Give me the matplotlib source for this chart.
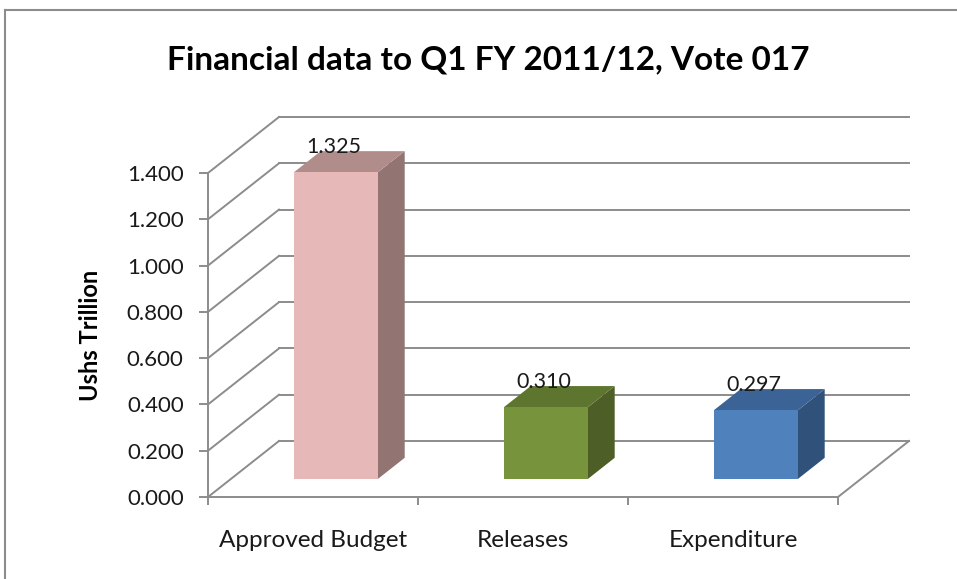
import matplotlib.pyplot as plt
from matplotlib.patches import Polygon, Rectangle
from matplotlib.lines import Line2D

# chart data
categories = ["Approved Budget", "Releases", "Expenditure"]
values = [1.325, 0.310, 0.297]
value_labels = ["1.325", "0.310", "0.297"]
y_ticks = [0.0, 0.2, 0.4, 0.6, 0.8, 1.0, 1.2, 1.4]
y_tick_labels = ["0.000", "0.200", "0.400", "0.600", "0.800", "1.000", "1.200", "1.400"]

# bar face colours (front, side, top)
front_colors = ["#E6B9B8", "#77933C", "#4F81BD"]
side_colors = ["#927472", "#4D5F26", "#30527A"]
top_colors = ["#B08D8B", "#5E7530", "#3B6396"]

GRID = "#8C8C8C"
TEXT = "#1a1a1a"
FONT = "Lato"
W, H = 957, 579
DEPTH_PX = (71, 56)      # full floor depth in pixels
BAR_FRONT, BAR_BACK = 0.32, 0.70   # bar position within the depth
BAR_W = 0.4

plt.rcParams["font.family"] = FONT

fig = plt.figure(figsize=(W / 100, H / 100), dpi=100)
ax = fig.add_axes([208 / W, 82 / H, 630 / W, 324 / H])
ax.set_xlim(-0.5, 2.5)
ax.set_ylim(0, 1.4)

# convert depth offset from pixels into data units
px_x = ax.get_position().width * W / 3.0
px_y = ax.get_position().height * H / 1.4
dx = DEPTH_PX[0] / px_x
dy = DEPTH_PX[1] / px_y

x_lo, x_hi = ax.get_xlim()

# back wall gridlines and left wall diagonals
for t in y_ticks:
    ax.add_line(Line2D([x_lo + dx, x_hi + dx], [t + dy, t + dy], color=GRID,
                       lw=1.4, clip_on=False, zorder=1))
    ax.add_line(Line2D([x_lo, x_lo + dx], [t, t + dy], color=GRID,
                       lw=1.4, clip_on=False, zorder=1))
# right edge of floor
ax.add_line(Line2D([x_hi, x_hi + dx], [0, dy], color=GRID, lw=1.4,
                   clip_on=False, zorder=1))

# 3-D bars
depth = BAR_BACK - BAR_FRONT
for i, v in enumerate(values):
    x0 = i - BAR_W / 2 + BAR_FRONT * dx
    y0 = BAR_FRONT * dy
    bx, by = depth * dx, depth * dy
    side = Polygon([(x0 + BAR_W, y0), (x0 + BAR_W, y0 + v),
                    (x0 + BAR_W + bx, y0 + v + by), (x0 + BAR_W + bx, y0 + by)],
                   closed=True, fc=side_colors[i], ec="none", zorder=3, clip_on=False)
    top = Polygon([(x0, y0 + v), (x0 + BAR_W, y0 + v),
                   (x0 + BAR_W + bx, y0 + v + by), (x0 + bx, y0 + v + by)],
                  closed=True, fc=top_colors[i], ec="none", zorder=3, clip_on=False)
    front = Rectangle((x0, y0), BAR_W, v, fc=front_colors[i], ec="none",
                      zorder=4, clip_on=False)
    ax.add_patch(side)
    ax.add_patch(top)
    ax.add_patch(front)
    ax.annotate(value_labels[i], (x0 + BAR_W / 2, y0 + v + by),
                xytext=(-2, 4), textcoords="offset pixels", ha="center",
                va="center", fontsize=15.5, color=TEXT, zorder=5,
                annotation_clip=False)

# axes styling
for s in ["top", "right"]:
    ax.spines[s].set_visible(False)
for s in ["left", "bottom"]:
    ax.spines[s].set_color(GRID)
    ax.spines[s].set_linewidth(1.4)
ax.set_facecolor("none")

ax.set_yticks(y_ticks, y_tick_labels)
ax.tick_params(axis="y", length=6.5, width=1.4, color=GRID, pad=11,
               labelsize=16, labelcolor=TEXT)
ax.set_xticks([-0.5, 0.5, 1.5, 2.5], ["", "", "", ""])
ax.set_xticks([0, 1, 2], categories, minor=True)
ax.tick_params(axis="x", which="major", length=6, width=1.4, color=GRID)
ax.tick_params(axis="x", which="minor", length=0, pad=24, labelsize=17.5,
               labelcolor=TEXT)
ax.set_ylabel("Ushs Trillion", fontsize=17, fontweight="bold", labelpad=18)

fig.text(488 / W, 1 - 60 / H, "Financial data to Q1 FY 2011/12, Vote 017",
         ha="center", va="center", fontsize=24, fontweight="bold")

# chart area border (top and left edges)
fig.add_artist(Line2D([5 / W, 5 / W], [0, 1 - 10 / H], color=GRID, lw=1.5,
                      transform=fig.transFigure))
fig.add_artist(Line2D([5 / W, 1], [1 - 10 / H, 1 - 10 / H], color=GRID, lw=1.5,
                      transform=fig.transFigure))

fig.savefig("out.png", dpi=100)
